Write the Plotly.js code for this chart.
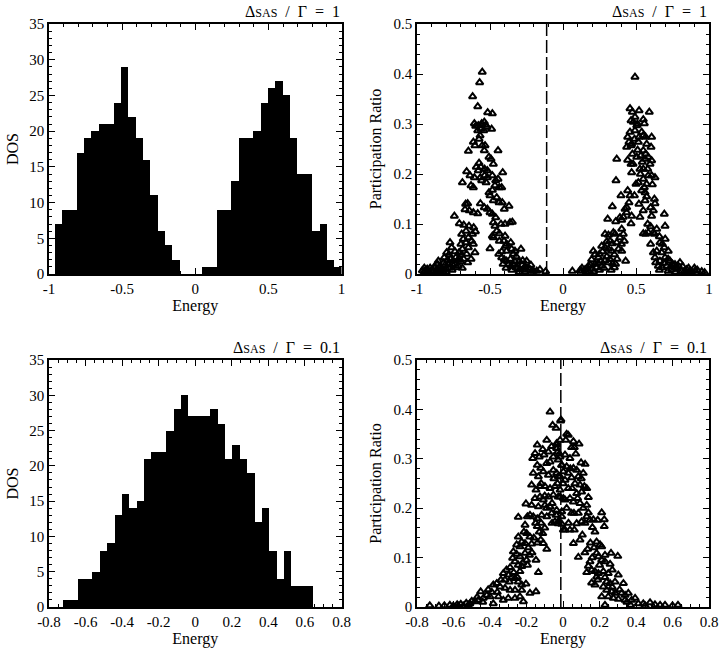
<!DOCTYPE html>
<html>
<head>
<meta charset="utf-8">
<script src="https://cdn.plot.ly/plotly-3.0.1.min.js"></script>
<style>
  html, body { margin: 0; padding: 0; background: #fff; }
  #chart { width: 720px; height: 654px; }
</style>
</head>
<body>
<div id="chart"></div>
<script>
// DOS histograms: first bin edge, bin width, counts per bin
const dosStrongStart = -0.961;
const dosStrongWidth = 0.0503;
const dosStrongCounts = [7, 9, 9, 17, 19, 20, 21, 21, 24, 29, 22, 19, 16, 11, 6, 4, 2, 0, 0, 0,
  1, 1, 9, 9, 13, 19, 19, 20, 24, 26, 27, 25, 19, 14, 14, 6, 7, 2, 1];

const dosWeakStart = -0.7234;
const dosWeakWidth = 0.0403;
const dosWeakCounts = [1, 1, 4, 4, 5, 8, 9, 13, 16, 14, 15, 21, 22, 22, 25, 28, 30, 27, 27, 27,
  28, 26, 21, 23, 21, 19, 12, 14, 8, 4, 8, 3, 3, 3];

// dashed reference line (Fermi level) in each participation-ratio panel
const fermiStrong = -0.112;
const fermiWeak = -0.012;

// participation ratio vs energy, [energy, PR]
const prStrongNeg = [
  [-0.553,0.404],[-0.571,0.383],[-0.619,0.355],[-0.584,0.335],[-0.516,0.323],[-0.484,0.321],
  [-0.607,0.301],[-0.539,0.304],[-0.598,0.296],[-0.580,0.297],[-0.557,0.301],[-0.530,0.298],
  [-0.562,0.290],[-0.584,0.287],[-0.543,0.287],[-0.521,0.294],[-0.489,0.290],[-0.568,0.277],
  [-0.575,0.270],[-0.648,0.246],[-0.445,0.247],[-0.614,0.264],[-0.603,0.257],[-0.553,0.257],
  [-0.534,0.257],[-0.539,0.247],[-0.575,0.222],[-0.594,0.214],[-0.562,0.214],[-0.507,0.234],
  [-0.493,0.230],[-0.477,0.220],[-0.537,0.210],[-0.518,0.207],[-0.580,0.207],[-0.660,0.205],
  [-0.637,0.197],[-0.607,0.193],[-0.566,0.193],[-0.537,0.197],[-0.518,0.193],[-0.413,0.203],
  [-0.689,0.183],[-0.614,0.173],[-0.630,0.177],[-0.557,0.187],[-0.527,0.183],[-0.484,0.197],
  [-0.461,0.187],[-0.445,0.190],[-0.420,0.173],[-0.466,0.177],[-0.436,0.173],[-0.507,0.163],
  [-0.484,0.168],[-0.500,0.157],[-0.454,0.153],[-0.438,0.143],[-0.477,0.147],[-0.416,0.143],
  [-0.653,0.141],[-0.667,0.140],[-0.671,0.129],[-0.642,0.127],[-0.614,0.123],[-0.584,0.121],
  [-0.566,0.141],[-0.539,0.133],[-0.518,0.130],[-0.500,0.123],[-0.484,0.120],[-0.370,0.136],
  [-0.402,0.130],[-0.744,0.116],[-0.710,0.101],[-0.680,0.098],[-0.644,0.096],[-0.612,0.093],
  [-0.664,0.086],[-0.694,0.080],[-0.461,0.113],[-0.477,0.103],[-0.466,0.096],[-0.425,0.100],
  [-0.397,0.100],[-0.363,0.103],[-0.347,0.104],[-0.454,0.086],[-0.436,0.081],[-0.484,0.076],
  [-0.500,0.051],[-0.477,0.073],[-0.436,0.066],[-0.397,0.076],[-0.404,0.066],[-0.386,0.060],
  [-0.393,0.056],[-0.358,0.063],[-0.386,0.046],[-0.352,0.050],[-0.329,0.046],[-0.288,0.050],
  [-0.648,0.073],[-0.683,0.070],[-0.699,0.060],[-0.689,0.050],[-0.664,0.063],[-0.712,0.043],
  [-0.694,0.039],[-0.648,0.053],[-0.626,0.066],[-0.614,0.060],[-0.603,0.043],[-0.653,0.023],
  [-0.774,0.063],[-0.763,0.053],[-0.797,0.043],[-0.781,0.039],[-0.813,0.033],[-0.735,0.033],
  [-0.751,0.026],[-0.758,0.019],[-0.785,0.018],[-0.808,0.018],[-0.717,0.016],[-0.728,0.013],
  [-0.854,0.026],[-0.842,0.016],[-0.877,0.013],[-0.865,0.009],[-0.900,0.007],[-0.922,0.006],
  [-0.945,0.006],[-0.963,0.007],[-0.831,0.009],[-0.420,0.033],[-0.402,0.029],[-0.386,0.026],
  [-0.374,0.019],[-0.356,0.016],[-0.340,0.019],[-0.324,0.013],[-0.295,0.009],[-0.272,0.009],
  [-0.249,0.026],[-0.226,0.009],[-0.203,0.006],[-0.180,0.006],[-0.158,0.009],[-0.119,0.005],
  [-0.276,0.027],[-0.440,0.040],[-0.420,0.045],[-0.410,0.020],[-0.390,0.012],[-0.360,0.030],
  [-0.340,0.040],[-0.310,0.012],[-0.300,0.025],[-0.260,0.015],[-0.950,0.004],[-0.930,0.010],
  [-0.910,0.012],[-0.890,0.005],[-0.870,0.004],[-0.850,0.012],[-0.820,0.005],[-0.800,0.010],
  [-0.790,0.028],[-0.770,0.030],[-0.740,0.045],[-0.720,0.028],[-0.700,0.025],[-0.680,0.030],
  [-0.660,0.040],[-0.630,0.030],[-0.620,0.080],[-0.600,0.085],[-0.950,0.012],[-0.930,0.004],
  [-0.880,0.015],[-0.860,0.020],[-0.840,0.006],[-0.820,0.022],[-0.800,0.004],[-0.780,0.012],
  [-0.760,0.008],[-0.740,0.020],[-0.710,0.030],[-0.690,0.012],[-0.350,0.008],[-0.330,0.025],
  [-0.320,0.035],[-0.300,0.004],[-0.280,0.018],[-0.260,0.005],[-0.240,0.012],[-0.220,0.018],
  [-0.210,0.006]
];

const prStrongPos = [
  [0.493,0.394],[0.459,0.331],[0.475,0.324],[0.521,0.327],[0.591,0.324],[0.493,0.314],
  [0.466,0.307],[0.482,0.304],[0.550,0.309],[0.557,0.301],[0.505,0.297],[0.493,0.287],
  [0.459,0.284],[0.539,0.284],[0.550,0.277],[0.521,0.274],[0.566,0.274],[0.607,0.274],
  [0.443,0.274],[0.452,0.264],[0.436,0.254],[0.466,0.257],[0.516,0.264],[0.573,0.260],
  [0.603,0.254],[0.511,0.248],[0.550,0.247],[0.566,0.240],[0.534,0.237],[0.475,0.240],
  [0.505,0.234],[0.368,0.230],[0.443,0.228],[0.466,0.220],[0.584,0.234],[0.562,0.230],
  [0.607,0.227],[0.596,0.220],[0.543,0.224],[0.527,0.210],[0.550,0.210],[0.470,0.203],
  [0.607,0.197],[0.630,0.193],[0.584,0.197],[0.363,0.187],[0.516,0.183],[0.573,0.180],
  [0.612,0.179],[0.557,0.173],[0.539,0.167],[0.562,0.163],[0.573,0.155],[0.443,0.167],
  [0.397,0.157],[0.459,0.157],[0.489,0.157],[0.562,0.147],[0.626,0.150],[0.630,0.141],
  [0.452,0.143],[0.436,0.133],[0.338,0.135],[0.425,0.130],[0.600,0.133],[0.619,0.127],
  [0.550,0.127],[0.694,0.120],[0.607,0.116],[0.413,0.114],[0.390,0.113],[0.470,0.116],
  [0.527,0.114],[0.306,0.110],[0.361,0.105],[0.402,0.108],[0.466,0.101],[0.436,0.123],
  [0.288,0.080],[0.311,0.078],[0.345,0.083],[0.356,0.080],[0.402,0.090],[0.413,0.080],
  [0.390,0.073],[0.322,0.066],[0.338,0.061],[0.368,0.063],[0.420,0.066],[0.265,0.056],
  [0.288,0.053],[0.311,0.050],[0.333,0.046],[0.352,0.039],[0.402,0.046],[0.429,0.026],
  [0.208,0.046],[0.219,0.039],[0.242,0.033],[0.196,0.029],[0.260,0.026],[0.288,0.027],
  [0.311,0.023],[0.352,0.013],[0.174,0.016],[0.151,0.009],[0.128,0.006],[0.116,0.007],
  [0.064,0.006],[0.231,0.013],[0.265,0.016],[0.550,0.081],[0.566,0.080],[0.584,0.083],
  [0.619,0.083],[0.642,0.090],[0.626,0.080],[0.699,0.096],[0.664,0.063],[0.680,0.060],
  [0.694,0.053],[0.642,0.046],[0.619,0.043],[0.676,0.043],[0.721,0.046],[0.630,0.033],
  [0.664,0.026],[0.699,0.033],[0.733,0.026],[0.635,0.023],[0.653,0.016],[0.680,0.013],
  [0.710,0.016],[0.744,0.009],[0.767,0.013],[0.801,0.023],[0.808,0.006],[0.847,0.009],
  [0.870,0.006],[0.904,0.006],[0.950,0.005],[0.767,0.019],[0.180,0.005],[0.200,0.010],
  [0.220,0.020],[0.250,0.040],[0.270,0.045],[0.300,0.035],[0.320,0.030],[0.340,0.020],
  [0.370,0.030],[0.380,0.050],[0.400,0.060],[0.300,0.065],[0.700,0.070],[0.660,0.075],
  [0.720,0.030],[0.750,0.020],[0.780,0.010],[0.820,0.015],[0.860,0.012],[0.880,0.004],
  [0.920,0.008],[0.970,0.003],[0.600,0.060],[0.580,0.100],[0.600,0.095],[0.520,0.140],
  [0.500,0.180],[0.530,0.200],[0.480,0.220],[0.510,0.300],[0.470,0.260],[0.550,0.190],
  [0.580,0.210],[0.490,0.270],[0.130,0.012],[0.160,0.004],[0.190,0.018],[0.210,0.005],
  [0.240,0.022],[0.250,0.008],[0.280,0.012],[0.330,0.008],[0.360,0.020],[0.660,0.008],
  [0.690,0.022],[0.720,0.006],[0.740,0.015],[0.770,0.004],[0.790,0.016],[0.830,0.005],
  [0.860,0.003],[0.900,0.012]
];

const prWeakNeg = [
  [-0.071,0.395],[-0.057,0.368],[-0.038,0.362],[-0.011,0.379],[-0.089,0.338],[-0.141,0.328],
  [-0.111,0.319],[-0.153,0.311],[-0.166,0.301],[-0.130,0.304],[-0.104,0.308],[-0.080,0.314],
  [-0.062,0.325],[-0.035,0.321],[-0.035,0.331],[-0.016,0.338],[-0.141,0.287],[-0.122,0.281],
  [-0.089,0.291],[-0.071,0.294],[-0.053,0.304],[-0.026,0.298],[-0.007,0.287],[-0.163,0.271],
  [-0.135,0.264],[-0.108,0.274],[-0.080,0.267],[-0.053,0.277],[-0.035,0.271],[-0.016,0.264],
  [-0.172,0.247],[-0.148,0.237],[-0.126,0.244],[-0.099,0.244],[-0.071,0.240],[-0.044,0.244],
  [-0.016,0.237],[-0.153,0.220],[-0.126,0.223],[-0.108,0.217],[-0.080,0.223],[-0.053,0.227],
  [-0.026,0.223],[0.002,0.220],[-0.203,0.209],[-0.172,0.206],[-0.135,0.203],[-0.099,0.206],
  [-0.071,0.203],[-0.035,0.196],[-0.181,0.186],[-0.195,0.183],[-0.163,0.183],[-0.141,0.179],
  [-0.117,0.186],[-0.089,0.183],[-0.062,0.190],[-0.038,0.186],[-0.007,0.193],[-0.044,0.173],
  [-0.026,0.169],[0.002,0.156],[-0.245,0.182],[-0.208,0.166],[-0.214,0.152],[-0.199,0.149],
  [-0.181,0.142],[-0.141,0.163],[-0.130,0.152],[-0.111,0.149],[-0.122,0.136],[-0.108,0.129],
  [-0.089,0.117],[-0.245,0.142],[-0.226,0.132],[-0.254,0.126],[-0.236,0.122],[-0.208,0.129],
  [-0.172,0.128],[-0.272,0.112],[-0.254,0.107],[-0.236,0.102],[-0.208,0.109],[-0.184,0.105],
  [-0.148,0.095],[-0.276,0.099],[-0.263,0.092],[-0.245,0.085],[-0.226,0.082],[-0.195,0.085],
  [-0.236,0.072],[-0.135,0.070],[-0.327,0.068],[-0.300,0.065],[-0.281,0.060],[-0.318,0.055],
  [-0.294,0.051],[-0.263,0.058],[-0.245,0.051],[-0.226,0.045],[-0.203,0.047],[-0.363,0.048],
  [-0.382,0.045],[-0.345,0.041],[-0.318,0.038],[-0.290,0.034],[-0.263,0.034],[-0.226,0.034],
  [-0.181,0.028],[-0.148,0.031],[-0.451,0.031],[-0.418,0.024],[-0.400,0.021],[-0.437,0.018],
  [-0.464,0.014],[-0.482,0.011],[-0.510,0.007],[-0.519,0.004],[-0.546,0.002],[-0.574,0.002],
  [-0.601,0.002],[-0.354,0.021],[-0.327,0.014],[-0.300,0.018],[-0.263,0.018],[-0.236,0.021],
  [-0.217,0.011],[-0.382,0.007],[-0.730,0.003],[-0.680,0.002],[-0.650,0.003],[-0.620,0.004],
  [-0.580,0.005],[-0.560,0.006],[-0.530,0.008],[-0.500,0.012],[-0.470,0.020],[-0.440,0.010],
  [-0.410,0.035],[-0.390,0.030],[-0.360,0.030],[-0.340,0.055],[-0.310,0.075],[-0.290,0.080],
  [-0.270,0.070],[-0.250,0.060],[-0.220,0.090],[-0.200,0.095],[-0.190,0.120],[-0.170,0.110],
  [-0.160,0.140],[-0.150,0.170],[-0.120,0.170],[-0.100,0.160],[-0.090,0.200],[-0.060,0.210],
  [-0.050,0.260],[-0.030,0.250],[-0.020,0.310],[-0.100,0.225],[-0.120,0.250],[-0.060,0.170],
  [-0.140,0.130]
];

const prWeakPos = [
  [-0.013,0.377],[0.029,0.348],[0.015,0.338],[0.057,0.335],[0.088,0.330],[0.047,0.323],
  [0.062,0.323],[-0.035,0.328],[-0.029,0.314],[-0.016,0.304],[0.011,0.308],[0.038,0.301],
  [0.099,0.292],[0.121,0.289],[-0.007,0.287],[0.020,0.284],[0.057,0.281],[0.075,0.277],
  [0.002,0.274],[0.029,0.271],[0.047,0.262],[0.084,0.264],[0.111,0.271],[-0.026,0.264],
  [0.011,0.257],[0.029,0.240],[0.066,0.250],[0.093,0.247],[0.117,0.244],[0.130,0.240],
  [0.102,0.233],[0.075,0.230],[0.139,0.222],[-0.016,0.223],[0.011,0.217],[0.038,0.220],
  [0.057,0.213],[0.093,0.210],[0.130,0.206],[0.111,0.200],[0.020,0.200],[0.047,0.190],
  [0.084,0.190],[0.139,0.191],[0.212,0.191],[0.226,0.177],[0.166,0.177],[0.190,0.176],
  [0.130,0.183],[0.148,0.176],[-0.007,0.183],[-0.026,0.173],[-0.007,0.168],[0.075,0.169],
  [0.102,0.173],[0.011,0.156],[0.038,0.156],[0.062,0.156],[0.161,0.161],[0.175,0.152],
  [0.226,0.163],[0.106,0.146],[0.057,0.129],[0.093,0.136],[0.135,0.117],[0.184,0.132],
  [0.203,0.126],[0.212,0.122],[0.084,0.101],[0.184,0.109],[0.194,0.102],[0.212,0.095],
  [0.230,0.105],[0.263,0.109],[0.300,0.103],[0.230,0.092],[0.258,0.087],[0.148,0.092],
  [0.139,0.083],[0.130,0.070],[0.157,0.075],[0.175,0.072],[0.194,0.068],[0.221,0.072],
  [0.248,0.068],[0.303,0.065],[0.157,0.049],[0.175,0.045],[0.190,0.055],[0.184,0.061],
  [0.239,0.051],[0.258,0.048],[0.285,0.051],[0.331,0.048],[0.221,0.041],[0.239,0.034],
  [0.267,0.031],[0.285,0.028],[0.321,0.028],[0.340,0.024],[0.358,0.028],[0.248,0.021],
  [0.212,0.021],[0.276,0.018],[0.303,0.016],[0.340,0.014],[0.376,0.014],[0.413,0.007],
  [0.440,0.007],[0.477,0.009],[0.504,0.005],[0.532,0.004],[0.559,0.004],[0.230,0.004],
  [0.395,0.018],[0.600,0.003],[0.630,0.004],[0.020,0.350],[0.070,0.310],[0.040,0.280],
  [0.100,0.260],[0.000,0.250],[0.050,0.240],[0.080,0.220],[0.120,0.170],[0.150,0.130],
  [0.170,0.120],[0.200,0.085],[0.230,0.060],[0.270,0.040],[0.310,0.035],[0.350,0.010],
  [0.370,0.004],[0.450,0.003],[0.270,0.075],[0.160,0.100],[0.120,0.110],[0.060,0.190],
  [0.030,0.170]
];

// tick labels (hyphen minus, as in the original)
const energyTicksWide = [-1, -0.5, 0, 0.5, 1];
const energyLabelsWide = ['-1', '-0.5', '0', '0.5', '1'];
const energyTicksNarrow = [-0.8, -0.6, -0.4, -0.2, 0, 0.2, 0.4, 0.6, 0.8];
const energyLabelsNarrow = ['-0.8', '-0.6', '-0.4', '-0.2', '0', '0.2', '0.4', '0.6', '0.8'];
const dosTicks = [0, 5, 10, 15, 20, 25, 30, 35];
const prTicks = [0, 0.1, 0.2, 0.3, 0.4, 0.5];
const prLabels = ['0', '0.1', '0.2', '0.3', '0.4', '0.5'];

const panelTitles = [
  'Δ<span style="font-size:12px">SAS</span>\u2002/\u2002Γ\u2002=\u20021',
  'Δ<span style="font-size:12px">SAS</span>\u2002/\u2002Γ\u2002=\u20020.1'
];

const FONT = '"Liberation Serif", "Times New Roman", serif';

function binCenters(start, width, counts) {
  return counts.map((c, i) => start + width * (i + 0.5));
}

function dosTrace(start, width, counts, xa, ya) {
  return {
    type: 'bar',
    x: binCenters(start, width, counts),
    y: counts,
    width: width,
    marker: { color: '#000', line: { width: 0 } },
    xaxis: xa, yaxis: ya,
    hovertemplate: '%{x:.3f}: %{y}<extra></extra>'
  };
}

function prTrace(pts, xa, ya) {
  return {
    type: 'scatter',
    mode: 'markers',
    x: pts.map(p => p[0]),
    y: pts.map(p => p[1]),
    marker: { symbol: 'triangle-up-open', size: 6.5, color: '#000', line: { width: 2 } },
    xaxis: xa, yaxis: ya,
    cliponaxis: false,
    hovertemplate: '%{x:.3f}, %{y:.3f}<extra></extra>'
  };
}

function axis(domain, anchor, range, tickvals, ticktext, minorStep, title, standoff) {
  return {
    domain: domain,
    anchor: anchor,
    range: range,
    tickmode: 'array',
    tickvals: tickvals,
    ticktext: ticktext,
    ticks: 'inside',
    ticklen: 6,
    tickwidth: 1,
    tickcolor: '#000',
    minor: { tickmode: 'linear', tick0: 0, dtick: minorStep, ticks: 'inside', ticklen: 3, tickwidth: 1, tickcolor: '#000' },
    showline: true,
    linecolor: '#000',
    linewidth: 1.5,
    mirror: 'ticks',
    showgrid: false,
    zeroline: false,
    fixedrange: true,
    tickfont: { family: FONT, size: 15, color: '#000' },
    title: { text: title, font: { family: FONT, size: 16, color: '#000' }, standoff: standoff }
  };
}

// panel frames in paper units (720 x 654 page)
const colLeft = [49 / 720, 341.5 / 720];
const colRight = [417 / 720, 709 / 720];
const rowTop = [(654 - 274) / 654, (654 - 24) / 654];
const rowBottom = [(654 - 607) / 654, (654 - 360) / 654];

const data = [
  dosTrace(dosStrongStart, dosStrongWidth, dosStrongCounts, 'x', 'y'),
  prTrace(prStrongNeg, 'x2', 'y2'),
  prTrace(prStrongPos, 'x2', 'y2'),
  dosTrace(dosWeakStart, dosWeakWidth, dosWeakCounts, 'x3', 'y3'),
  prTrace(prWeakNeg, 'x4', 'y4'),
  prTrace(prWeakPos, 'x4', 'y4')
];

const layout = {
  width: 720,
  height: 654,
  margin: { l: 0, r: 0, t: 0, b: 0 },
  paper_bgcolor: '#fff',
  plot_bgcolor: '#fff',
  showlegend: false,
  bargap: 0,
  font: { family: FONT, color: '#000' },

  xaxis: axis(colLeft, 'y', [-1, 1], energyTicksWide, energyLabelsWide, 0.1, 'Energy', 1),
  yaxis: axis(rowTop, 'x', [0, 35], dosTicks, dosTicks.map(String), 1, 'DOS', 7),
  xaxis2: axis(colRight, 'y2', [-1, 1], energyTicksWide, energyLabelsWide, 0.1, 'Energy', 1),
  yaxis2: axis(rowTop, 'x2', [0, 0.5], prTicks, prLabels, 0.02, 'Participation Ratio', 8),
  xaxis3: axis(colLeft, 'y3', [-0.8, 0.8], energyTicksNarrow, energyLabelsNarrow, 0.05, 'Energy', 1),
  yaxis3: axis(rowBottom, 'x3', [0, 35], dosTicks, dosTicks.map(String), 1, 'DOS', 7),
  xaxis4: axis(colRight, 'y4', [-0.8, 0.8], energyTicksNarrow, energyLabelsNarrow, 0.05, 'Energy', 1),
  yaxis4: axis(rowBottom, 'x4', [0, 0.5], prTicks, prLabels, 0.02, 'Participation Ratio', 8),

  shapes: [
    { type: 'line', xref: 'x2', yref: 'y2 domain', x0: fermiStrong, x1: fermiStrong, y0: 0, y1: 1,
      line: { color: '#000', width: 1.5, dash: '13px,4px' } },
    { type: 'line', xref: 'x4', yref: 'y4 domain', x0: fermiWeak, x1: fermiWeak, y0: 0, y1: 1,
      line: { color: '#000', width: 1.5, dash: '13px,4px' } }
  ],

  annotations: [
    [colLeft, rowTop, 0], [colRight, rowTop, 0],
    [colLeft, rowBottom, 1], [colRight, rowBottom, 1]
  ].map(([col, row, k]) => ({
    xref: 'paper', yref: 'paper',
    x: col[1], y: row[1],
    xanchor: 'right', yanchor: 'bottom', yshift: 2,
    showarrow: false,
    text: panelTitles[k],
    font: { family: FONT, size: 16, color: '#000' }
  }))
};

Plotly.newPlot('chart', data, layout, { displayModeBar: false });
</script>
</body>
</html>
